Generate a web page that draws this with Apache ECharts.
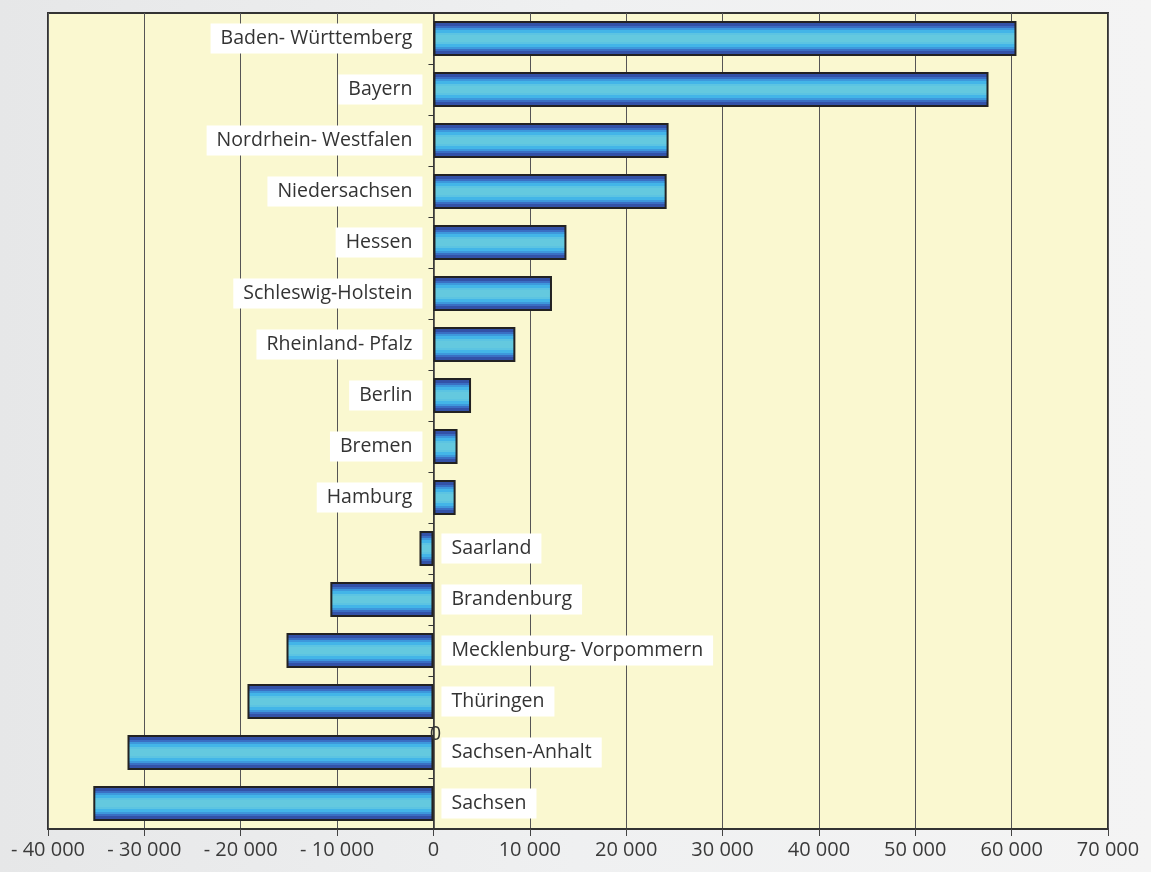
<!DOCTYPE html>
<html>
<head>
<meta charset="utf-8">
<script src="https://cdn.jsdelivr.net/npm/echarts@6/dist/echarts.min.js"></script>
<style>
  html, body { margin: 0; padding: 0; }
  body { width: 1151px; height: 872px; background: linear-gradient(90deg, #e6e7e8 0%, #eff0f1 50%, #f4f4f4 100%); }
  #chart { width: 1151px; height: 872px; }
</style>
</head>
<body>
<div id="chart"></div>
<script>
  // Bundesländer and values
  const states = ['Baden- Württemberg', 'Bayern', 'Nordrhein- Westfalen', 'Niedersachsen', 'Hessen',
    'Schleswig-Holstein', 'Rheinland- Pfalz', 'Berlin', 'Bremen', 'Hamburg', 'Saarland',
    'Brandenburg', 'Mecklenburg- Vorpommern', 'Thüringen', 'Sachsen-Anhalt', 'Sachsen'];
  const values = [60500, 57600, 24400, 24200, 13800, 12300, 8500, 3900, 2500, 2300, -1450,
    -10700, -15250, -19300, -31750, -35300];
  const xMin = -40000;
  const xMax = 70000;
  const xStep = 10000;

  const fontFamily = 'Open Sans';

  function fmt(v) {
    const s = String(Math.abs(v)).replace(/\B(?=(\d{3})+(?!\d))/g, ' ');
    return v < 0 ? '- ' + s : s;
  }

  // banded fill, dark at the edges and light cyan in the middle
  const bands = ['#2a3a8a', '#3352a8', '#3a6fc4', '#3d98dc', '#43b5e8', '#5cc4e2', '#64c9df'];
  const stops = [];
  const bw = 0.068;
  bands.forEach(function (c, i) {
    stops.push({ offset: i * bw, color: c }, { offset: (i + 1) * bw, color: c });
  });
  for (let i = bands.length - 1; i >= 0; i--) {
    stops.push({ offset: 1 - (i + 1) * bw, color: bands[i] }, { offset: 1 - i * bw, color: bands[i] });
  }
  const barColor = new echarts.graphic.LinearGradient(0, 0, 0, 1, stops);

  const data = values.map(function (v) {
    return {
      value: v,
      label: { position: v >= 0 ? 'left' : 'right', distance: v >= 0 ? 11 : 8 }
    };
  });

  const chart = echarts.init(document.getElementById('chart'));
  const option = {
    animation: false,
    textStyle: { fontFamily: fontFamily },
    grid: {
      left: 48,
      right: 43,
      top: 13,
      bottom: 43,
      show: true,
      backgroundColor: '#faf8d0',
      borderColor: '#333',
      borderWidth: 2
    },
    xAxis: {
      type: 'value',
      min: xMin,
      max: xMax,
      interval: xStep,
      axisLine: { show: true, onZero: false, lineStyle: { color: '#333', width: 2 } },
      axisTick: { show: true, length: 7, lineStyle: { color: '#444' } },
      axisLabel: {
        color: '#3a3a3a',
        fontSize: 20,
        fontFamily: fontFamily,
        margin: 11,
        formatter: fmt
      },
      splitLine: { show: true, lineStyle: { color: '#555', width: 1 } }
    },
    yAxis: {
      type: 'category',
      inverse: true,
      data: states,
      axisLine: { show: true, onZero: true, lineStyle: { color: '#333', width: 1.5 } },
      axisTick: { show: true, length: 5, lineStyle: { color: '#333' } },
      axisLabel: { show: false },
      splitLine: { show: false }
    },
    series: [
      {
        type: 'bar',
        data: data,
        barCategoryGap: '31%',
        itemStyle: {
          color: barColor,
          borderColor: '#222',
          borderWidth: 2
        },
        label: {
          show: true,
          formatter: '{b}',
          color: '#333',
          fontSize: 19.5,
          fontFamily: fontFamily,
          lineHeight: 20,
          backgroundColor: '#ffffff',
          padding: [6, 10, 4, 10]
        }
      }
    ]
  };
  chart.setOption(option);

  // stray "0" label sitting on the axis between Thüringen and Sachsen-Anhalt
  const p1 = chart.convertToPixel({ gridIndex: 0 }, [0, 'Thüringen']);
  const p2 = chart.convertToPixel({ gridIndex: 0 }, [0, 'Sachsen-Anhalt']);
  chart.setOption({
    graphic: [{
      type: 'text',
      x: p1[0] + 2,
      y: (p1[1] + p2[1]) / 2 + 7,
      style: { text: '0', fill: '#333', fontSize: 20, fontFamily: fontFamily, align: 'center', verticalAlign: 'middle' },
      z: 10
    }]
  });

  window.addEventListener('resize', function () {
    chart.resize();
  });
</script>
</body>
</html>
